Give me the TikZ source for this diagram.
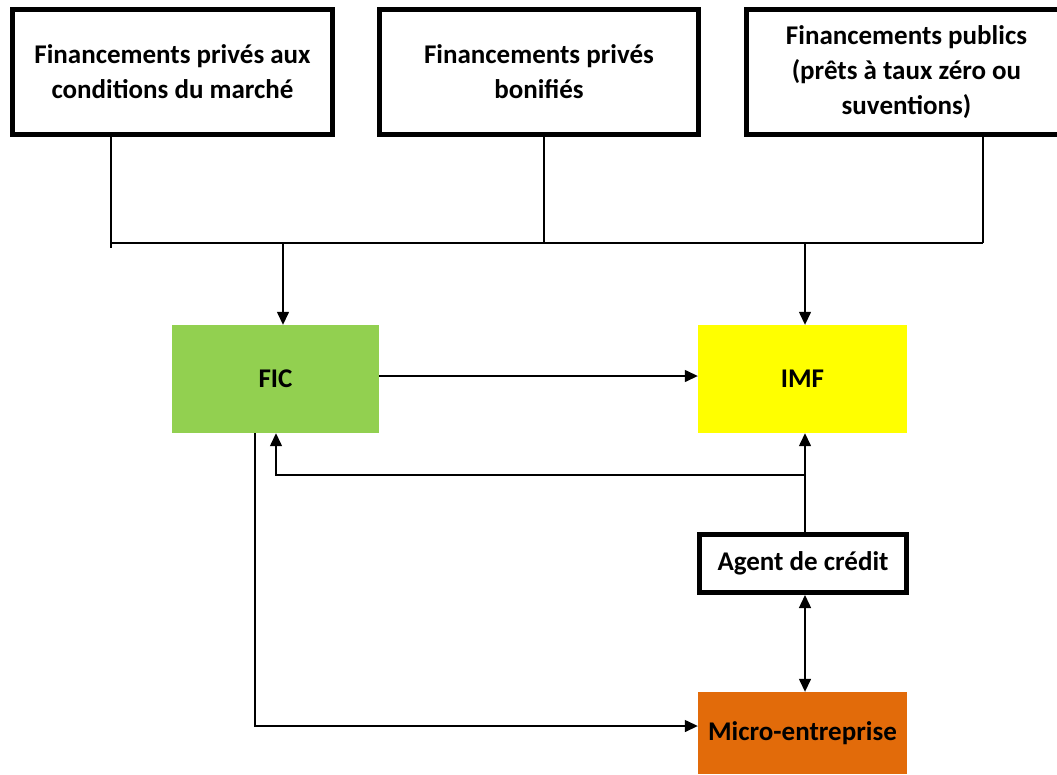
\documentclass[tikz,border=0pt]{standalone}
\usepackage{fontspec}
\setmainfont{Carlito}
\usetikzlibrary{arrows.meta}

\definecolor{ficgreen}{RGB}{146,208,80}
\definecolor{imfyellow}{RGB}{255,255,0}
\definecolor{microorange}{RGB}{226,107,10}

\begin{document}
\begin{tikzpicture}[x=1pt,y=-1pt,
    source/.style={draw,line width=5pt,align=center,inner sep=0pt,
        font=\fontsize{27}{35}\selectfont\bfseries},
    actor/.style={inner sep=0pt,font=\fontsize{27}{35}\selectfont\bfseries},
    wire/.style={line width=1.4pt},
    flow/.style={wire,-{Triangle[length=13pt,width=12pt]}},
    twoway/.style={wire,{Triangle[length=13pt,width=12pt]}-{Triangle[length=13pt,width=12pt]}}]
	\clip (0,0) rectangle (1057,774);
	\fill[white] (0,0) rectangle (1057,774);
	% sources of funding
	\node[source,minimum width=320pt,minimum height=125pt] (priv) at (172.5,72) {Financements privés aux\\conditions du marché};
	\node[source,minimum width=319pt,minimum height=125pt] (bonif) at (539,72) {Financements privés\\bonifiés};
	\node[source,minimum width=320pt,minimum height=125pt] (publ) at (906.5,72) {Financements publics\\(prêts à taux zéro ou\\suventions)};
	% institutions
	\node[actor,fill=ficgreen,minimum width=207pt,minimum height=108pt] (fic) at (275.5,379) {FIC};
	\node[actor,fill=imfyellow,minimum width=209pt,minimum height=108pt] (imf) at (802.5,379) {IMF};
	\node[source,minimum width=207pt,minimum height=58pt] (agent) at (803,563.5) {Agent de crédit};
	\node[actor,fill=microorange,minimum width=209pt,minimum height=82pt] (micro) at (802.5,733) {Micro-entreprise};
	% collecting bus
	\coordinate (busl) at (111,243);
	\coordinate (busr) at (983,243);
	\draw[wire] (priv.south -| busl) -- (111,248);
	\draw[wire] (bonif.south -| 544,0) -- (544,243);
	\draw[wire] (publ.south -| busr) -- (busr);
	\draw[wire] (busl) -- (busr);
	\draw[flow] (283,243) -- (fic.north -| 283,0);
	\draw[flow] (805,243) -- (imf.north -| 805,0);
	% flows between actors
	\draw[flow] (fic.east |- 0,376) -- (imf.west |- 0,376);
	\draw[flow] (agent.north -| 805,0) -- (imf.south -| 805,0);
	\draw[flow] (805,475) -- (276,475) -- (fic.south -| 276,0);
	\draw[twoway] (agent.south -| 805,0) -- (micro.north -| 805,0);
	\draw[flow] (fic.south -| 255,0) -- (255,726) -- (micro.west |- 0,726);
\end{tikzpicture}
\end{document}
